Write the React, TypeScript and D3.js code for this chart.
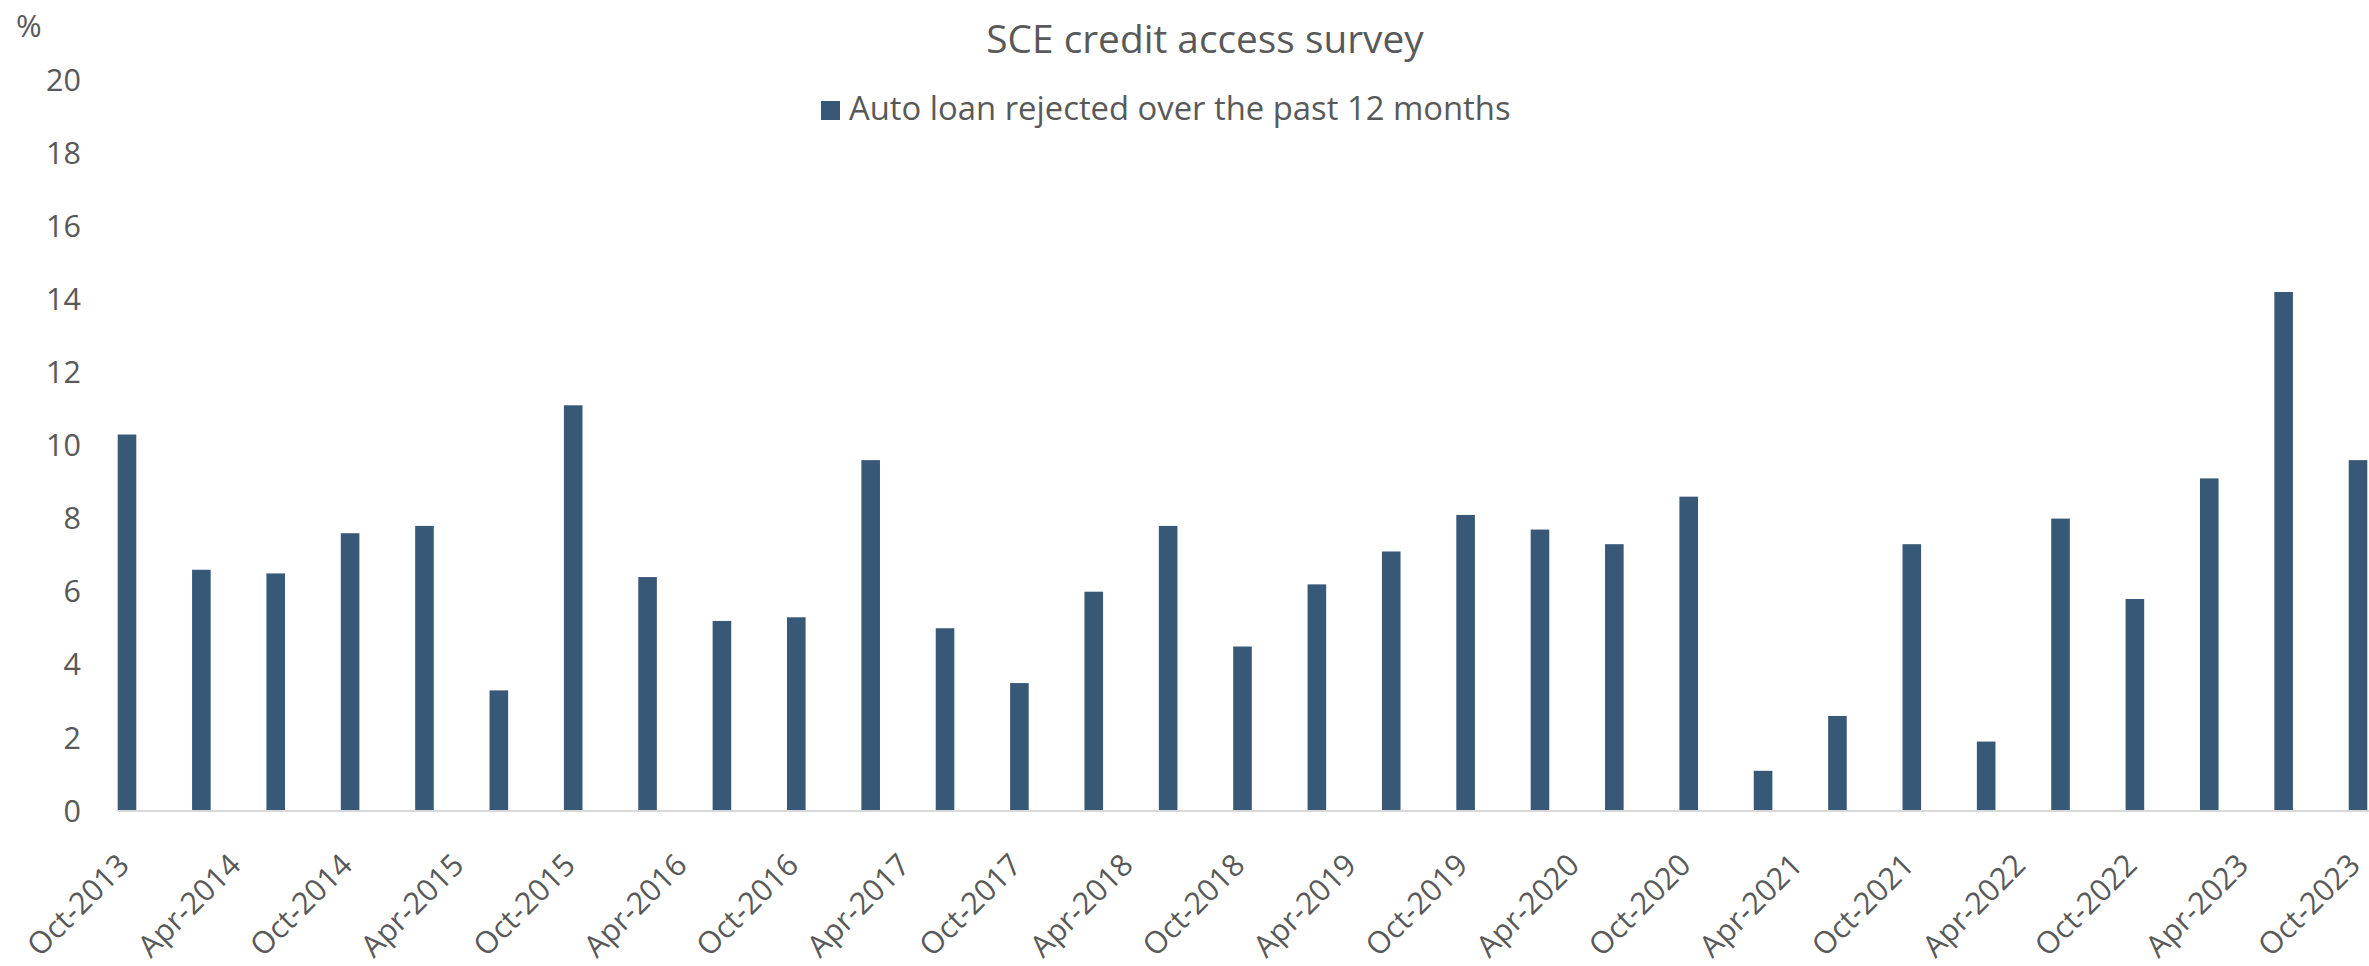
import React from 'react';
import * as d3 from 'd3';

// survey waves (Feb / Jun / Oct)
const periods = [
  'Oct-2013', 'Feb-2014', 'Jun-2014', 'Oct-2014', 'Feb-2015', 'Jun-2015', 'Oct-2015',
  'Feb-2016', 'Jun-2016', 'Oct-2016', 'Feb-2017', 'Jun-2017', 'Oct-2017',
  'Feb-2018', 'Jun-2018', 'Oct-2018', 'Feb-2019', 'Jun-2019', 'Oct-2019',
  'Feb-2020', 'Jun-2020', 'Oct-2020', 'Feb-2021', 'Jun-2021', 'Oct-2021',
  'Feb-2022', 'Jun-2022', 'Oct-2022', 'Feb-2023', 'Jun-2023', 'Oct-2023',
];
const autoRejected = [
  10.3, 6.6, 6.5, 7.6, 7.8, 3.3, 11.1,
  6.4, 5.2, 5.3, 9.6, 5.0, 3.5,
  6.0, 7.8, 4.5, 6.2, 7.1, 8.1,
  7.7, 7.3, 8.6, 1.1, 2.6, 7.3,
  1.9, 8.0, 5.8, 9.1, 14.2, 9.6,
];
const xTickLabels = [
  'Oct-2013', 'Apr-2014', 'Oct-2014', 'Apr-2015', 'Oct-2015', 'Apr-2016', 'Oct-2016',
  'Apr-2017', 'Oct-2017', 'Apr-2018', 'Oct-2018', 'Apr-2019', 'Oct-2019', 'Apr-2020',
  'Oct-2020', 'Apr-2021', 'Oct-2021', 'Apr-2022', 'Oct-2022', 'Apr-2023', 'Oct-2023',
];
const yTicks = [0, 2, 4, 6, 8, 10, 12, 14, 16, 18, 20];

const title = 'SCE credit access survey';
const seriesName = 'Auto loan rejected over the past 12 months';

const W = 2369;
const H = 966;
const BAR = '#385877';
const TEXT = '#595959';
const FONT = '"Open Sans", "Noto Sans", sans-serif';

const parse = d3.timeParse('%b-%Y');
const start = parse(periods[0]) as Date;
const monthIdx = (s: string) => d3.timeMonth.count(start, parse(s) as Date);

export default function App() {
  const x = d3
    .scaleLinear()
    .domain([0, monthIdx(periods[periods.length - 1])])
    .range([127, 2358]);
  const y = d3.scaleLinear().domain([0, 20]).range([811, 80]);
  const barW = (x(4) - x(0)) * 0.25;

  return (
    <svg
      width={W}
      height={H}
      style={{ position: 'absolute', left: 0, top: 0, background: '#fff' }}
      fontFamily={FONT}
    >
      <text x={1205} y={53} textAnchor="middle" fontSize={38.8} fill={TEXT}>
        {title}
      </text>

      {/* legend */}
      <rect x={821} y={101} width={19} height={19} fill={BAR} />
      <text x={849} y={120} fontSize={32.8} fill={TEXT}>
        {seriesName}
      </text>

      <text x={16} y={37} fontSize={31} fill={TEXT}>%</text>

      {/* y axis labels */}
      {yTicks.map((t) => (
        <text key={t} x={81} y={y(t)} dy="0.35em" textAnchor="end" fontSize={30.5} fill={TEXT}>
          {t}
        </text>
      ))}

      {/* bars */}
      {periods.map((p, i) => (
        <rect
          key={p}
          x={x(monthIdx(p)) - barW / 2}
          y={y(autoRejected[i])}
          width={barW}
          height={y(0) - y(autoRejected[i])}
          fill={BAR}
        />
      ))}

      <line x1={118} x2={W} y1={y(0)} y2={y(0)} stroke="#D9D9D9" strokeWidth={2} />

      {/* x labels */}
      {xTickLabels.map((l) => (
        <text
          key={l}
          transform={`translate(${x(monthIdx(l)) + 4},${y(0) + 56}) rotate(-45)`}
          textAnchor="end"
          fontSize={30.5}
          fill={TEXT}
        >
          {l}
        </text>
      ))}
    </svg>
  );
}
